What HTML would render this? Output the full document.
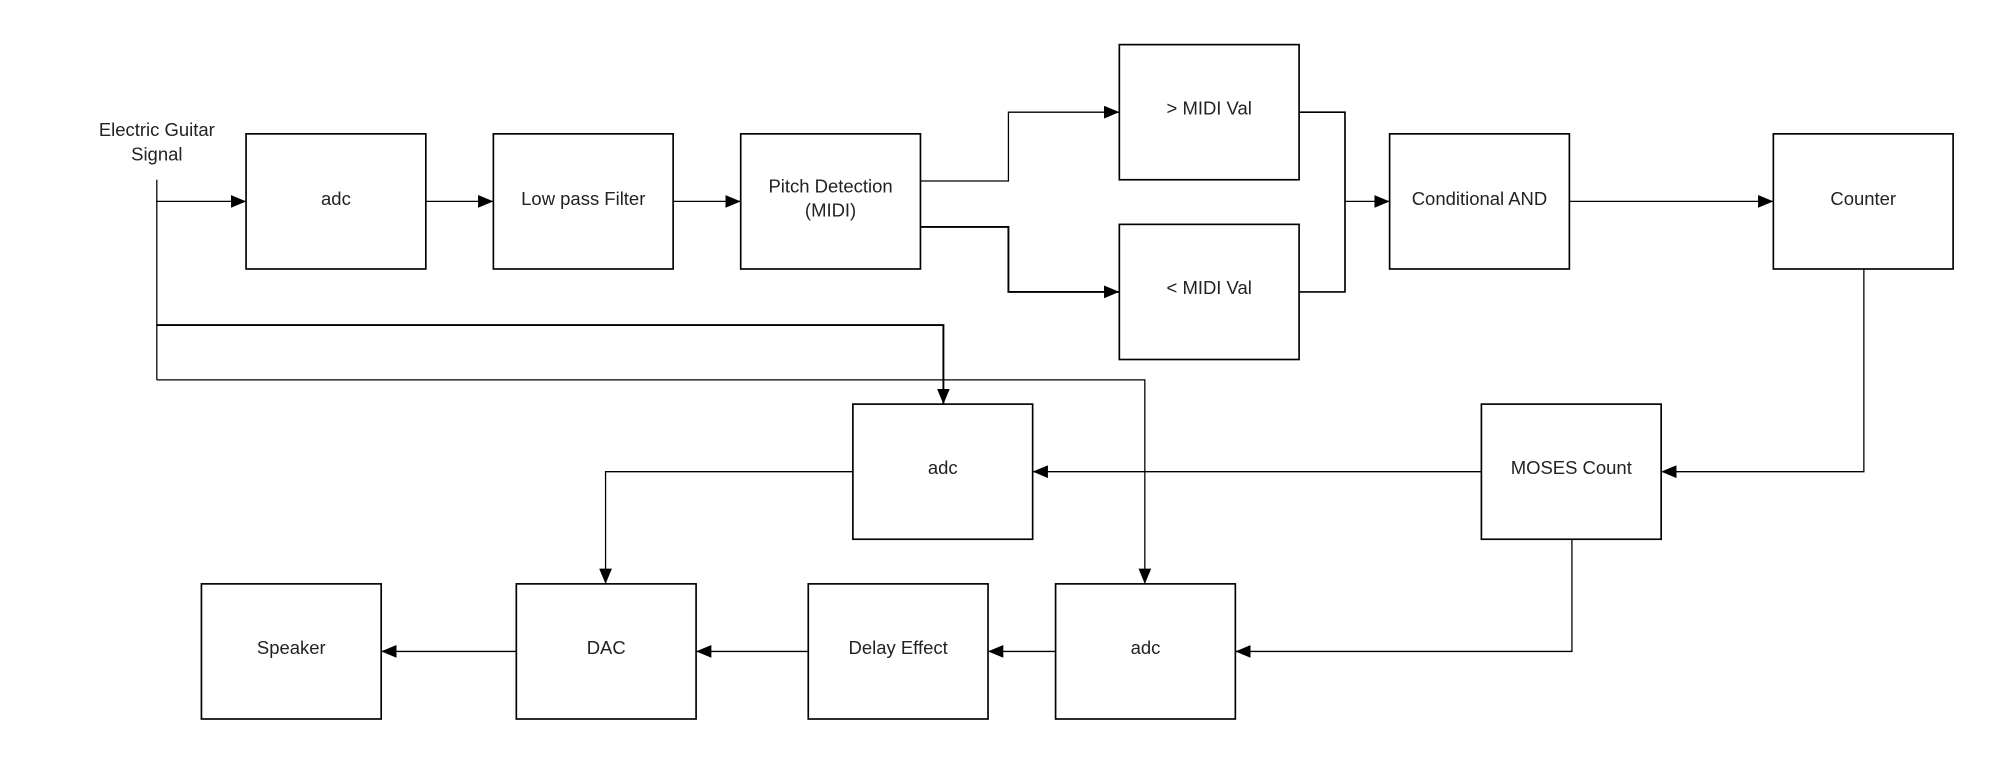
<!DOCTYPE html>
<html><head><meta charset="utf-8"><style>
html,body{margin:0;padding:0;background:#fff;}
svg{display:block;}
text{font-family:"Liberation Sans",sans-serif;font-size:14.5px;fill:#222;text-anchor:middle;dominant-baseline:middle;}
</style></head><body>
<svg width="1999" height="764" viewBox="0 0 1568 599.3" preserveAspectRatio="none" xmlns="http://www.w3.org/2000/svg">
<defs><marker id="a" markerWidth="12" markerHeight="10" refX="12" refY="5" orient="auto" markerUnits="userSpaceOnUse"><path d="M0,0 L12,5 L0,10 z" fill="#000"/></marker></defs>
<g fill="#fff" stroke="#000" stroke-width="1.3">
<rect x="193" y="105" width="141" height="106"/>
<rect x="387" y="105" width="141" height="106"/>
<rect x="581" y="105" width="141" height="106"/>
<rect x="878" y="35" width="141" height="106"/>
<rect x="878" y="176" width="141" height="106"/>
<rect x="1090" y="105" width="141" height="106"/>
<rect x="1391" y="105" width="141" height="106"/>
<rect x="669" y="317" width="141" height="106"/>
<rect x="1162" y="317" width="141" height="106"/>
<rect x="158" y="458" width="141" height="106"/>
<rect x="405" y="458" width="141" height="106"/>
<rect x="634" y="458" width="141" height="106"/>
<rect x="828" y="458" width="141" height="106"/>
</g>
<g fill="none" stroke="#000" stroke-width="1">
<path d="M123,141 V298"/>
<path d="M123,158 H193" marker-end="url(#a)"/>
<path d="M123,255 H740 V317" stroke-width="1.5" marker-end="url(#a)"/>
<path d="M123,298 H898 V458" marker-end="url(#a)"/>
<path d="M334,158 H387" marker-end="url(#a)"/>
<path d="M528,158 H581" marker-end="url(#a)"/>
<path d="M722,142 H791 V88 H878" marker-end="url(#a)"/>
<path d="M722,178 H791 V229 H878" stroke-width="1.5" marker-end="url(#a)"/>
<path d="M1019,88 H1055 V229 H1019" stroke-width="1.3"/>
<path d="M1055,158 H1090" marker-end="url(#a)"/>
<path d="M1231,158 H1391" marker-end="url(#a)"/>
<path d="M1462,211 V370 H1303" marker-end="url(#a)"/>
<path d="M1162,370 H810" marker-end="url(#a)"/>
<path d="M669,370 H475 V458" marker-end="url(#a)"/>
<path d="M1233,423 V511 H969" marker-end="url(#a)"/>
<path d="M828,511 H775" marker-end="url(#a)"/>
<path d="M634,511 H546" marker-end="url(#a)"/>
<path d="M405,511 H299" marker-end="url(#a)"/>
</g>
<text x="123" y="103">Electric Guitar</text>
<text x="123" y="122">Signal</text>
<text x="263.5" y="157">adc</text>
<text x="457.5" y="157">Low pass Filter</text>
<text x="651.5" y="147">Pitch Detection</text>
<text x="651.5" y="166">(MIDI)</text>
<text x="948.5" y="86">&gt; MIDI Val</text>
<text x="948.5" y="227">&lt; MIDI Val</text>
<text x="1160.5" y="157">Conditional AND</text>
<text x="1461.5" y="157">Counter</text>
<text x="739.5" y="368">adc</text>
<text x="1232.5" y="368">MOSES Count</text>
<text x="228.5" y="509">Speaker</text>
<text x="475.5" y="509">DAC</text>
<text x="704.5" y="509">Delay Effect</text>
<text x="898.5" y="509">adc</text>
</svg>
</body></html>
